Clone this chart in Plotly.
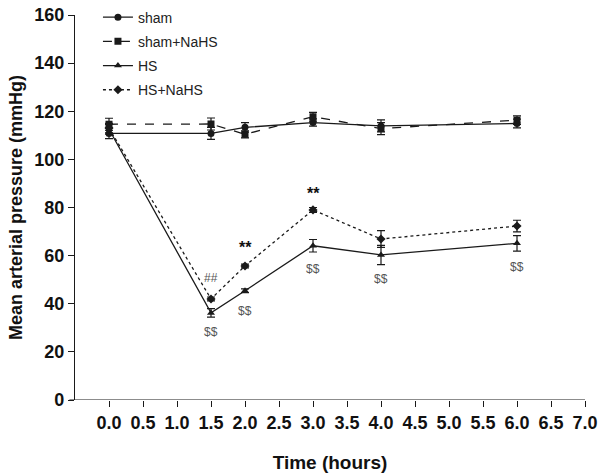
import plotly.graph_objects as go

time_h = [0.0, 1.5, 2.0, 3.0, 4.0, 6.0]

sham = [110.8, 110.8, 113.3, 115.3, 113.9, 114.9]
sham_err = [2.2, 2.5, 2.0, 1.5, 2.5, 1.8]
sham_nahs = [114.6, 114.7, 110.4, 117.7, 112.8, 116.3]
sham_nahs_err = [2.5, 2.5, 1.5, 1.8, 2.5, 1.8]
hs = [112.5, 36.2, 45.4, 64.1, 60.3, 65.1]
hs_err = [2.0, 1.8, 0.8, 2.6, 4.0, 3.2]
hs_nahs = [113.0, 42.0, 55.7, 79.0, 66.9, 72.3]
hs_nahs_err = [2.0, 0.8, 0.8, 1.0, 3.5, 2.4]

ann_text = ["##", "**", "**", "$$", "$$", "$$", "$$", "$$"]
ann_x = [1.5, 2.0, 3.0, 1.5, 2.0, 3.0, 4.0, 6.0]
ann_y = [50.7, 63.3, 86.0, 28.3, 37.1, 54.3, 50.2, 55.4]

x_ticks = [i * 0.5 for i in range(15)]
x_tick_labels = [f"{v:.1f}" for v in x_ticks]
y_ticks = [0, 20, 40, 60, 80, 100, 120, 140, 160]

FONT = "Arial, Liberation Sans, sans-serif"
INK = "#1a1a1a"

fig = go.Figure()

series = [
    ("sham", sham, sham_err, "circle", "solid"),
    ("sham+NaHS", sham_nahs, sham_nahs_err, "square", "dash"),
    ("HS", hs, hs_err, "triangle-up", "solid"),
    ("HS+NaHS", hs_nahs, hs_nahs_err, "diamond", "dot"),
]

for name, vals, errs, sym, dash in series:
    fig.add_trace(go.Scatter(
        x=time_h, y=vals, name=name, legendgroup=name, mode="lines+markers",
        line=dict(color=INK, width=1.3, dash=dash),
        marker=dict(symbol=sym, size=7, color=INK),
        error_y=dict(type="data", array=errs, visible=True, color=INK,
                     thickness=1.2, width=4),
    ))


def safe(t):
    return t.replace("$", "&#36;")


for t, xv, yv in zip(ann_text, ann_x, ann_y):
    is_star = t == "**"
    fig.add_annotation(
        x=xv, y=yv, text=safe(t), showarrow=False,
        font=dict(family=FONT, size=16 if is_star else 12,
                  color="#111" if is_star else "#555",
                  weight="bold" if is_star else "normal"),
    )

# x-axis baseline extends slightly left of the y-axis
fig.add_shape(type="line", xref="paper", yref="y", x0=-0.011, x1=1.0,
              y0=0, y1=0, line=dict(color=INK, width=1.2))

fig.update_layout(
    width=600, height=476,
    margin=dict(l=75, r=15, t=15, b=76, autoexpand=False),
    paper_bgcolor="white", plot_bgcolor="white",
    font=dict(family=FONT, color=INK),
    showlegend=True,
    legend=dict(
        x=0.045, y=1.035, xanchor="left", yanchor="top",
        bgcolor="rgba(0,0,0,0)", font=dict(size=14, family=FONT, color="#222"),
        tracegroupgap=3, itemwidth=30,
    ),
    xaxis=dict(
        range=[-0.5, 7.0], tickvals=x_ticks, ticktext=x_tick_labels,
        showgrid=False, zeroline=False, showline=False,
        ticks="outside", ticklen=6, tickwidth=1, tickcolor=INK,
        ticklabeloverflow="allow",
        tickfont=dict(size=18, family=FONT, color="#111", weight="bold"),
        title=dict(text="<b>Time (hours)</b>", font=dict(size=19, color="#111"),
                   standoff=24),
    ),
    yaxis=dict(
        range=[0, 160], tickvals=y_ticks,
        showgrid=False, zeroline=False, showline=True, linecolor=INK,
        linewidth=1.2,
        ticks="outside", ticklen=6, tickwidth=1, tickcolor=INK,
        ticklabeloverflow="allow",
        tickfont=dict(size=18, family=FONT, color="#111", weight="bold"),
        title=dict(text="<b>Mean arterial pressure (mmHg)</b>",
                   font=dict(size=18, color="#111"), standoff=6),
    ),
)

# remove the default page margin so the 600x476 figure fills the window
fig.write_html(
    "out.html",
    config={"displayModeBar": False},
    post_script="document.body.style.margin='0';document.body.style.overflow='hidden';",
)
